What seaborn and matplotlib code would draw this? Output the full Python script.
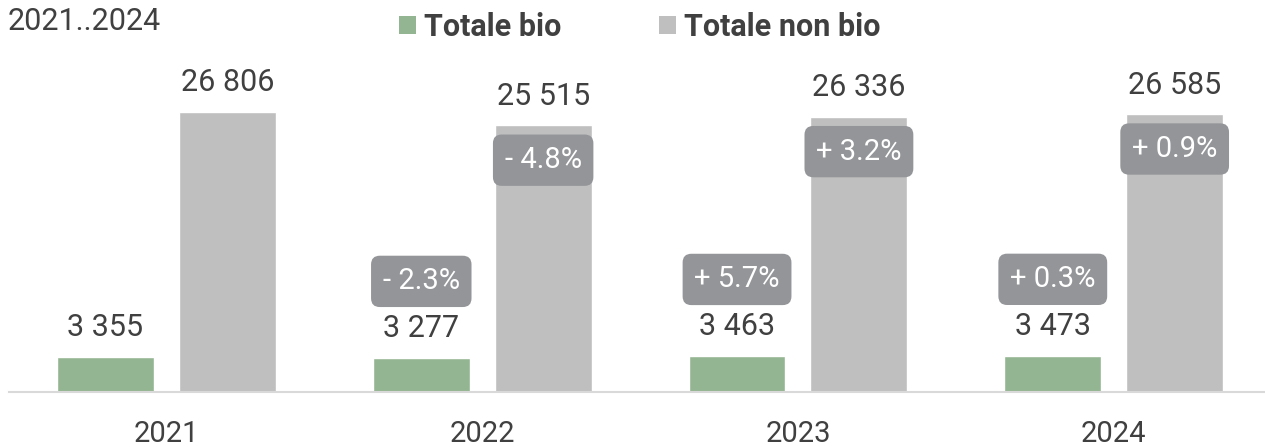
import matplotlib
matplotlib.use("Agg")
import matplotlib.pyplot as plt
from matplotlib.patches import Patch
import pandas as pd
import seaborn as sns

# values
years = ["2021", "2022", "2023", "2024"]
bio = [3355, 3277, 3463, 3473]
non_bio = [26806, 25515, 26336, 26585]
bio_change = [None, "- 2.3%", "+ 5.7%", "+ 0.3%"]
non_bio_change = [None, "- 4.8%", "+ 3.2%", "+ 0.9%"]
series = ["Totale bio", "Totale non bio"]
colors = ["#93b591", "#bfbfbf"]

TXT = "#404040"
BADGE = "#939598"

df = pd.DataFrame({
    "year": years * 2,
    "value": bio + non_bio,
    "serie": [series[0]] * 4 + [series[1]] * 4,
})

sns.set_theme(style="white")
plt.rcParams["font.family"] = ["Roboto", "DejaVu Sans"]

fig = plt.figure(figsize=(12.65, 4.47), dpi=100)
ax = fig.add_axes([8.6 / 1265, 55 / 447, 1263 / 1265, 342 / 447])

sns.barplot(data=df, x="year", y="value", hue="serie", palette=colors,
            width=0.772, gap=0.205, saturation=1, legend=False, ax=ax)

ax.set_ylim(0, 32740)
ax.set_xlim(-0.5, 3.5)
ax.set_xlabel("")
ax.set_ylabel("")
ax.set_yticks([])
for s in ["top", "right", "left"]:
    ax.spines[s].set_visible(False)
ax.spines["bottom"].set_color("#d9d9d9")
ax.spines["bottom"].set_linewidth(1.5)
ax.tick_params(axis="x", length=0, labelsize=21, labelcolor=TXT, pad=20)

changes = [bio_change, non_bio_change]
badge_off = [55, -25]
for k, cont in enumerate(ax.containers):
    for i, bar in enumerate(cont):
        x = bar.get_x() + bar.get_width() / 2
        h = bar.get_height()
        ax.annotate(f"{int(h):,}".replace(",", " "), (x, h), xytext=(0, 21),
                    textcoords="offset points", ha="center", va="center",
                    fontsize=22, color=TXT)
        if changes[k][i]:
            ax.annotate(changes[k][i], (x, h), xytext=(0, badge_off[k]),
                        textcoords="offset points", ha="center", va="center",
                        fontsize=21, color="white",
                        bbox=dict(boxstyle="round,pad=0.4,rounding_size=0.3",
                                  fc=BADGE, ec="none"))

handles = [Patch(facecolor=c, edgecolor="none") for c in colors]
leg = fig.legend(handles, series, loc="center", bbox_to_anchor=(0.5055, 0.94),
                 ncol=2, frameon=False, handlelength=0.55, handleheight=0.55,
                 handletextpad=0.26, columnspacing=3.2,
                 prop={"size": 22, "weight": "bold"})
for t in leg.get_texts():
    t.set_color(TXT)

fig.text(8 / 1265, 1 - 22 / 447, "2021..2024", ha="left", va="center",
         fontsize=22, color=TXT)

fig.savefig("out.png", dpi=100)
